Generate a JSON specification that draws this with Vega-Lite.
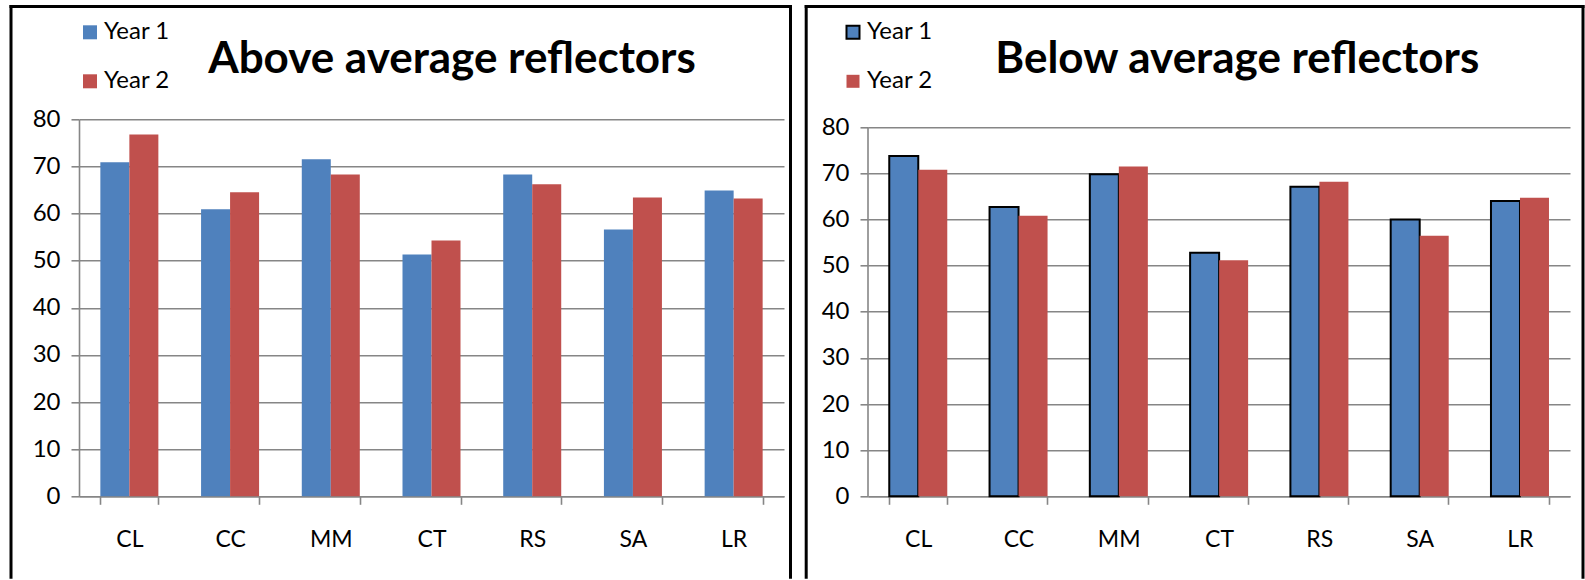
{
  "$schema": "https://vega.github.io/schema/vega-lite/v6.json",
  "padding": {"left": 8, "top": 4.3, "right": 0, "bottom": 0},
  "background": "white",
  "config": {
    "font": "Lato",
    "view": {"stroke": null},
    "axis": {"labelFont": "Lato", "labelColor": "black"},
    "legend": {"labelFont": "Lato", "labelColor": "black"}
  },
  "datasets": {
    "above": [
      {"cat": "CL", "year": "Year 1", "value": 70.9}, {"cat": "CL", "year": "Year 2", "value": 76.8},
      {"cat": "CC", "year": "Year 1", "value": 60.9}, {"cat": "CC", "year": "Year 2", "value": 64.5},
      {"cat": "MM", "year": "Year 1", "value": 71.5}, {"cat": "MM", "year": "Year 2", "value": 68.3},
      {"cat": "CT", "year": "Year 1", "value": 51.3}, {"cat": "CT", "year": "Year 2", "value": 54.3},
      {"cat": "RS", "year": "Year 1", "value": 68.3}, {"cat": "RS", "year": "Year 2", "value": 66.2},
      {"cat": "SA", "year": "Year 1", "value": 56.6}, {"cat": "SA", "year": "Year 2", "value": 63.4},
      {"cat": "LR", "year": "Year 1", "value": 64.9}, {"cat": "LR", "year": "Year 2", "value": 63.2}
    ],
    "below": [
      {"cat": "CL", "year": "Year 1", "value": 73.8}, {"cat": "CL", "year": "Year 2", "value": 70.8},
      {"cat": "CC", "year": "Year 1", "value": 62.7}, {"cat": "CC", "year": "Year 2", "value": 60.8},
      {"cat": "MM", "year": "Year 1", "value": 69.8}, {"cat": "MM", "year": "Year 2", "value": 71.5},
      {"cat": "CT", "year": "Year 1", "value": 52.8}, {"cat": "CT", "year": "Year 2", "value": 51.2},
      {"cat": "RS", "year": "Year 1", "value": 67.1}, {"cat": "RS", "year": "Year 2", "value": 68.2},
      {"cat": "SA", "year": "Year 1", "value": 60.0}, {"cat": "SA", "year": "Year 2", "value": 56.5},
      {"cat": "LR", "year": "Year 1", "value": 64.0}, {"cat": "LR", "year": "Year 2", "value": 64.7}
    ]
  },
  "spacing": 11,
  "resolve": {"scale": {"color": "independent", "stroke": "independent"}, "legend": {"color": "independent", "stroke": "independent"}},
  "hconcat": [
    {
      "width": 705,
      "height": 377,
      "resolve": {"scale": {"x": "independent"}, "axis": {"x": "independent"}},
      "layer": [
        {
          "data": {"name": "above"},
          "mark": {"type": "bar"},
          "encoding": {
            "x": {
              "field": "cat", "type": "nominal",
              "sort": ["CL", "CC", "MM", "CT", "RS", "SA", "LR"],
              "scale": {"paddingInner": 0.424, "paddingOuter": 0.212},
              "axis": {
                "title": null, "labelAngle": 0, "tickBand": "extent",
                "domainColor": "#868686", "domainWidth": 1.6,
                "tickColor": "#868686", "tickWidth": 1.6, "tickSize": 8,
                "labelFontSize": 23, "labelBaseline": "alphabetic", "labelPadding": 42
              }
            },
            "xOffset": {"field": "year", "type": "nominal", "sort": ["Year 1", "Year 2"], "scale": {"paddingInner": 0, "paddingOuter": 0}},
            "y": {
              "field": "value", "type": "quantitative",
              "scale": {"domain": [0, 80], "nice": false},
              "axis": {
                "title": null, "values": [0, 10, 20, 30, 40, 50, 60, 70, 80],
                "grid": true, "gridColor": "#868686", "gridWidth": 1.6,
                "domainColor": "#868686", "domainWidth": 1.6,
                "tickColor": "#868686", "tickWidth": 1.6, "tickSize": 8,
                "labelPadding": 11, "labelFontSize": 24
              }
            },
            "color": {
              "field": "year", "type": "nominal",
              "scale": {"domain": ["Year 1", "Year 2"], "range": ["#4F81BD", "#C0504D"]},
              "legend": {
                "title": null, "orient": "none", "legendX": -1, "legendY": -99,
                "symbolType": "square", "symbolSize": 196, "symbolStrokeWidth": 0,
                "labelFontSize": 24, "labelOffset": 2, "rowPadding": 25, "padding": 0
              }
            }
          }
        },
        {
          "data": {"values": [{}]},
          "layer": [
            {
              "mark": {"type": "rule", "color": "black", "strokeWidth": 3, "strokeCap": "square"},
              "encoding": {
                "x": {"datum": -0.09645, "type": "quantitative", "scale": {"domain": [0, 1]}, "axis": null},
                "y": {"datum": -17.19, "type": "quantitative", "scale": {"domain": [0, 80], "nice": false}},
                "y2": {"datum": 103.915}
              }
            },
            {
              "mark": {"type": "rule", "color": "black", "strokeWidth": 3, "strokeCap": "square"},
              "encoding": {
                "x": {"datum": 1.00922, "type": "quantitative", "scale": {"domain": [0, 1]}, "axis": null},
                "y": {"datum": -17.19, "type": "quantitative", "scale": {"domain": [0, 80], "nice": false}},
                "y2": {"datum": 103.915}
              }
            },
            {
              "mark": {"type": "rule", "color": "black", "strokeWidth": 3, "strokeCap": "square"},
              "encoding": {
                "x": {"datum": -0.09645, "type": "quantitative", "scale": {"domain": [0, 1]}, "axis": null},
                "x2": {"datum": 1.00922},
                "y": {"datum": 103.915, "type": "quantitative", "scale": {"domain": [0, 80], "nice": false}}
              }
            },
            {
              "mark": {"type": "text", "text": "Above average reflectors", "font": "Lato", "fontSize": 44, "fontWeight": "bold", "align": "center", "baseline": "alphabetic", "color": "black"},
              "encoding": {
                "x": {"datum": 0.529, "type": "quantitative", "scale": {"domain": [0, 1]}, "axis": null},
                "y": {"datum": 89.8, "type": "quantitative", "scale": {"domain": [0, 80], "nice": false}}
              }
            }
          ]
        }
      ]
    },
    {
      "width": 702,
      "height": 377,
      "resolve": {"scale": {"x": "independent"}, "axis": {"x": "independent"}},
      "layer": [
        {
          "data": {"name": "below"},
          "mark": {"type": "bar", "strokeWidth": 2},
          "encoding": {
            "x": {
              "field": "cat", "type": "nominal",
              "sort": ["CL", "CC", "MM", "CT", "RS", "SA", "LR"],
              "scale": {"paddingInner": 0.424, "paddingOuter": 0.212},
              "axis": {
                "title": null, "labelAngle": 0, "tickBand": "extent",
                "domainColor": "#868686", "domainWidth": 1.6,
                "tickColor": "#868686", "tickWidth": 1.6, "tickSize": 8,
                "labelFontSize": 23, "labelBaseline": "alphabetic", "labelPadding": 42
              }
            },
            "xOffset": {"field": "year", "type": "nominal", "sort": ["Year 1", "Year 2"], "scale": {"paddingInner": 0, "paddingOuter": 0}},
            "y": {
              "field": "value", "type": "quantitative",
              "scale": {"domain": [0, 81.734], "nice": false},
              "axis": {
                "title": null, "values": [0, 10, 20, 30, 40, 50, 60, 70, 80],
                "grid": true, "gridColor": "#868686", "gridWidth": 1.6,
                "domain": false,
                "tickColor": "#868686", "tickWidth": 1.6, "tickSize": 8,
                "labelPadding": 11, "labelFontSize": 24
              }
            },
            "color": {
              "field": "year", "type": "nominal",
              "scale": {"domain": ["Year 1", "Year 2"], "range": ["#4F81BD", "#C0504D"]},
              "legend": {
                "title": null, "orient": "none", "legendX": -27, "legendY": -99,
                "symbolType": "square", "symbolSize": 169, "symbolStrokeWidth": 2,
                "labelFontSize": 24, "labelOffset": 2, "rowPadding": 25, "padding": 0
              }
            },
            "stroke": {
              "field": "year", "type": "nominal",
              "scale": {"domain": ["Year 1", "Year 2"], "range": ["black", "transparent"]},
              "legend": {
                "title": null, "orient": "none", "legendX": -27, "legendY": -99,
                "symbolType": "square", "symbolSize": 169, "symbolStrokeWidth": 2,
                "labelFontSize": 24, "labelOffset": 2, "rowPadding": 25, "padding": 0
              }
            }
          }
        },
        {
          "data": {"values": [{}]},
          "layer": [
            {
              "mark": {"type": "rule", "color": "black", "strokeWidth": 3, "strokeCap": "square"},
              "encoding": {
                "x": {"datum": -0.08803, "type": "quantitative", "scale": {"domain": [0, 1]}, "axis": null},
                "y": {"datum": -17.561, "type": "quantitative", "scale": {"domain": [0, 81.734], "nice": false}},
                "y2": {"datum": 106.168}
              }
            },
            {
              "mark": {"type": "rule", "color": "black", "strokeWidth": 3, "strokeCap": "square"},
              "encoding": {
                "x": {"datum": 1.01852, "type": "quantitative", "scale": {"domain": [0, 1]}, "axis": null},
                "y": {"datum": -17.561, "type": "quantitative", "scale": {"domain": [0, 81.734], "nice": false}},
                "y2": {"datum": 106.168}
              }
            },
            {
              "mark": {"type": "rule", "color": "black", "strokeWidth": 3, "strokeCap": "square"},
              "encoding": {
                "x": {"datum": -0.08803, "type": "quantitative", "scale": {"domain": [0, 1]}, "axis": null},
                "x2": {"datum": 1.01852},
                "y": {"datum": 106.168, "type": "quantitative", "scale": {"domain": [0, 81.734], "nice": false}}
              }
            },
            {
              "mark": {"type": "rule", "color": "#868686", "strokeWidth": 1.6},
              "encoding": {
                "x": {"datum": 0, "type": "quantitative", "scale": {"domain": [0, 1]}, "axis": null},
                "y": {"datum": 0, "type": "quantitative", "scale": {"domain": [0, 81.734], "nice": false}},
                "y2": {"datum": 80}
              }
            },
            {
              "mark": {"type": "text", "text": "Below average reflectors", "font": "Lato", "fontSize": 44, "fontWeight": "bold", "align": "center", "baseline": "alphabetic", "color": "black"},
              "encoding": {
                "x": {"datum": 0.526, "type": "quantitative", "scale": {"domain": [0, 1]}, "axis": null},
                "y": {"datum": 91.8, "type": "quantitative", "scale": {"domain": [0, 81.734], "nice": false}}
              }
            }
          ]
        }
      ]
    }
  ]
}
